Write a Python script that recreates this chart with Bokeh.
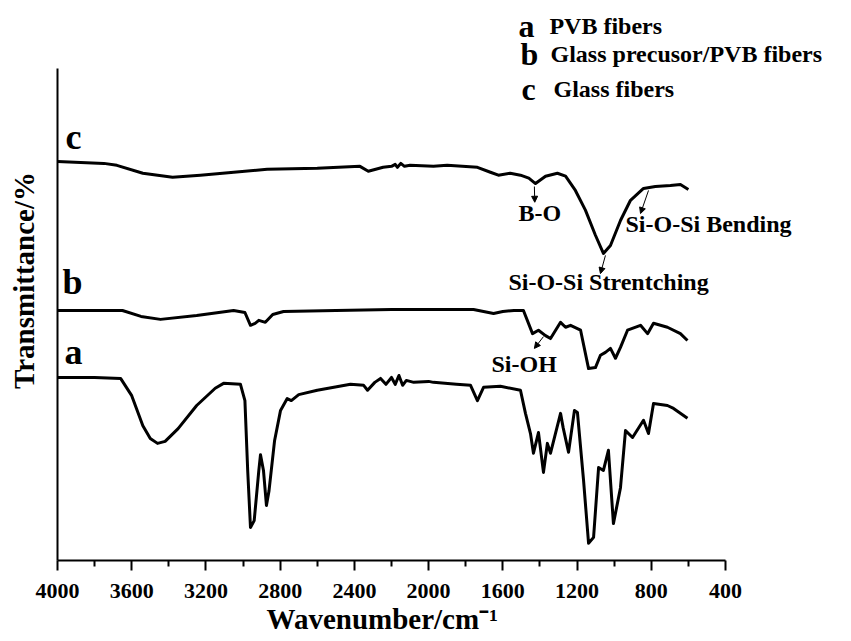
from bokeh.plotting import figure
from bokeh.models import Range1d, FixedTicker, Label, Arrow, NormalHead, Title
from bokeh.embed import file_html
from bokeh.resources import INLINE

# ---- data (y = transmittance, curves offset) ----
wn_c = [4000, 3750, 3680, 3540, 3380, 3230, 3050, 2870, 2600, 2370, 2325, 2245, 2200, 2180, 2168, 2150, 2130, 2100,
        1974, 1900, 1737, 1667, 1624, 1560, 1505, 1460, 1424, 1370, 1306, 1262, 1209, 1155, 1101, 1058, 1020, 966,
        912, 842, 778, 697, 643, 600]
tr_c = [81.1, 80.7, 80.3, 78.7, 77.9, 78.3, 78.9, 79.5, 79.7, 80.1, 79.1, 79.9, 80.1, 80.5, 79.9, 80.7, 80.1, 80.3,
        80.1, 80.3, 79.9, 78.9, 78.3, 78.7, 78.3, 77.7, 76.6, 78.1, 78.7, 78.1, 75.2, 71.2, 66.1, 62.4, 64.0, 69.1,
        73.2, 75.6, 76.0, 76.2, 76.4, 75.4]

wn_b = [4000, 3650, 3550, 3445, 3250, 3051, 2990, 2960, 2935, 2915, 2880, 2840, 2782, 2500, 2200, 2000, 1758, 1650,
        1600, 1540, 1489, 1440, 1408, 1370, 1343, 1289, 1262, 1235, 1181, 1138, 1101, 1074, 1047, 1020, 993, 966,
        928, 858, 820, 788, 713, 643, 605]
tr_b = [50.8, 50.8, 49.6, 49.0, 49.8, 50.8, 50.4, 47.8, 48.2, 48.8, 48.4, 50.0, 50.6, 50.8, 51.0, 51.0, 51.0, 50.2,
        50.6, 50.8, 50.8, 46.1, 46.8, 45.7, 45.1, 48.4, 47.4, 47.8, 46.8, 39.0, 39.2, 41.7, 42.3, 43.1, 41.1, 43.3,
        46.8, 47.8, 46.1, 48.2, 47.4, 46.1, 44.7]

wn_a = [4000, 3800, 3660, 3600, 3540, 3500, 3461, 3420, 3350, 3250, 3150, 3105, 3014, 2990, 2975, 2960, 2940, 2915,
        2906, 2890, 2874, 2860, 2830, 2798, 2762, 2740, 2700, 2600, 2421, 2350, 2329, 2290, 2259, 2230, 2200, 2180,
        2160, 2140, 2120, 2080, 2000, 1974, 1850, 1774, 1737, 1704, 1613, 1505, 1478, 1451, 1435, 1408, 1381, 1360,
        1343, 1289, 1275, 1246, 1214, 1198, 1165, 1138, 1111, 1084, 1058, 1031, 1004, 966, 939, 901, 842, 815, 788,
        713, 680, 605]
tr_a = [37.2, 37.2, 37.0, 33.5, 27.4, 24.8, 23.8, 24.2, 26.8, 31.5, 35.0, 36.0, 35.8, 32.5, 18.3, 6.7, 8.1, 18.3,
        21.5, 18.3, 11.2, 14.2, 24.4, 30.5, 32.9, 32.5, 33.7, 34.6, 35.8, 35.6, 34.6, 36.2, 37.0, 35.8, 37.2, 35.8,
        37.6, 35.6, 36.6, 36.2, 36.4, 36.2, 35.8, 35.6, 32.5, 35.2, 35.4, 34.6, 29.9, 25.8, 21.8, 26.0, 17.9, 23.8,
        21.8, 29.9, 27.0, 22.0, 30.5, 30.1, 16.3, 3.5, 4.7, 18.9, 18.3, 22.4, 7.5, 14.8, 26.4, 25.0, 28.5, 25.8, 31.9,
        31.5, 30.9, 28.9]

x_ticks = [4000, 3600, 3200, 2800, 2400, 2000, 1600, 1200, 800, 400]
x_minor = [3800, 3400, 3000, 2600, 2200, 1800, 1400, 1000, 600]

curve_letters = ["a", "b", "c"]
legend_texts = ["PVB fibers", "Glass precusor/PVB fibers", "Glass fibers"]

peak_names = ["B-O", "Si-O-Si Bending", "Si-O-Si Strentching", "Si-OH"]
peak_text_x = [1516, 939, 1570, 1661]
peak_text_y = [70.7, 68.4, 56.5, 40.0]
arrow_x0 = [1430, 815, 1047, 1381]
arrow_y0 = [76.0, 75.2, 62.0, 45.5]
arrow_x1 = [1428, 858, 1074, 1430]
arrow_y1 = [72.8, 70.5, 58.3, 43.1]

SERIF = "Liberation Serif"

p = figure(width=851, height=641, x_range=Range1d(4000, -279), y_range=Range1d(0, 113.8),
           output_backend="svg", toolbar_location=None,
           min_border_left=57, min_border_right=0, min_border_top=0, min_border_bottom=81)
p.outline_line_color = None
p.xgrid.visible = False
p.ygrid.visible = False

xa = p.xaxis[0]
xa.bounds = (400, 4000)
xa.ticker = FixedTicker(ticks=x_ticks, minor_ticks=x_minor)
xa.axis_line_width = 2
xa.axis_line_color = "black"
xa.major_tick_out = 10
xa.major_tick_in = 0
xa.minor_tick_out = 6
xa.minor_tick_in = 0
xa.major_tick_line_width = 2
xa.minor_tick_line_width = 2
xa.major_label_text_font = SERIF
xa.major_label_text_font_style = "bold"
xa.major_label_text_font_size = "22px"
xa.major_label_text_color = "black"
xa.major_label_standoff = 13

ya = p.yaxis[0]
ya.bounds = (0, 100)
ya.ticker = FixedTicker(ticks=[])
ya.axis_line_width = 2
ya.axis_line_color = "black"
ya.major_tick_line_color = None
ya.minor_tick_line_color = None
ya.major_label_text_font_size = "0px"
ya.axis_label = "Transmittance/%"
ya.axis_label_text_font = SERIF
ya.axis_label_text_font_style = "bold"
ya.axis_label_text_font_size = "29px"
ya.axis_label_text_color = "black"
ya.axis_label_standoff = 18

p.add_layout(Title(text="Wavenumber/cm\u207b\u00b9", align="left", offset=209, standoff=0,
                   text_font=SERIF, text_font_style="bold", text_font_size="29px",
                   text_color="black"), "below")

for wn, tr in [(wn_a, tr_a), (wn_b, tr_b), (wn_c, tr_c)]:
    p.line(wn, tr, line_color="black", line_width=3, line_join="round")

letter_x = [3962, 3973, 3957]
letter_y = [42.3, 56.6, 86.0]
for t, lx, ly in zip(curve_letters, letter_x, letter_y):
    p.add_layout(Label(x=lx, y=ly, text=t, text_font=SERIF, text_font_style="bold", text_font_size="36px",
                       text_baseline="alphabetic", text_align="left", text_color="black"))

leg_letter_x = [1516, 1505, 1500]
leg_text_x = [1349, 1343, 1327]
leg_y = [108.7, 103.0, 95.8]
for t, s, lx, tx, ly in zip(curve_letters, legend_texts, leg_letter_x, leg_text_x, leg_y):
    p.add_layout(Label(x=lx, y=ly, text=t, text_font=SERIF, text_font_style="bold", text_font_size="32px",
                       text_baseline="alphabetic", text_align="left", text_color="black"))
    p.add_layout(Label(x=tx, y=ly, text=s, text_font=SERIF, text_font_style="bold", text_font_size="24px",
                       text_baseline="alphabetic", text_align="left", text_color="black"))

for name, tx, ty, x0, y0, x1, y1 in zip(peak_names, peak_text_x, peak_text_y, arrow_x0, arrow_y0, arrow_x1, arrow_y1):
    p.add_layout(Label(x=tx, y=ty, text=name, text_font=SERIF, text_font_style="bold", text_font_size="24px",
                       text_baseline="alphabetic", text_align="left", text_color="black"))
    p.add_layout(Arrow(x_start=x0, y_start=y0, x_end=x1, y_end=y1, line_width=1, line_color="black",
                       end=NormalHead(size=6, fill_color="black", line_color="black")))

open("out.html", "w").write(file_html(p, INLINE))
